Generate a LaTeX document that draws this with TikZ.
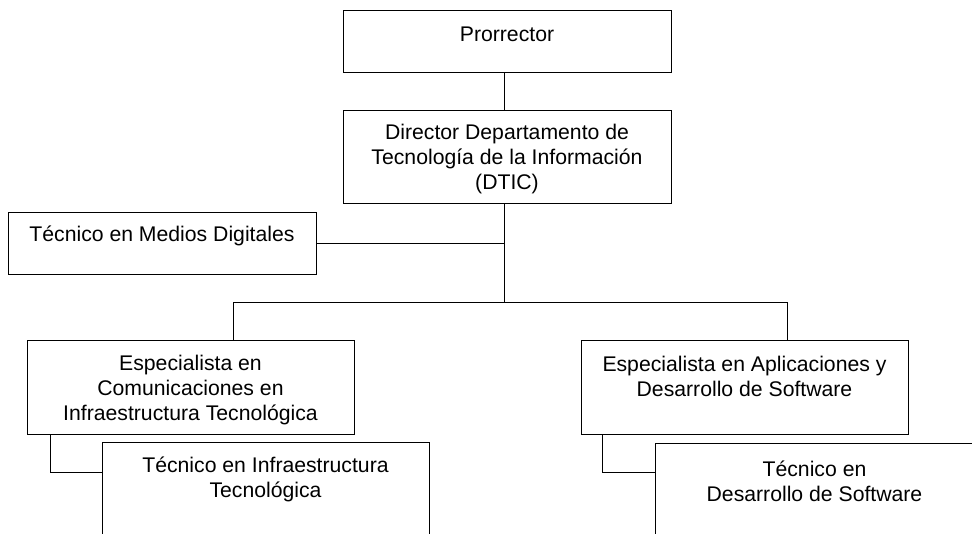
\documentclass[tikz,border=0pt]{standalone}
\usepackage{fontspec}
\setmainfont{Liberation Sans}
\begin{document}
\begin{tikzpicture}[x=1pt,y=-1pt,
  box/.style={draw=black,line width=1pt,rectangle,inner sep=0pt},
  lbl/.style={font=\fontsize{21.2}{25}\selectfont,align=center,anchor=base,inner sep=0pt},
  conn/.style={draw=black,line width=1pt}]
\useasboundingbox (0,0) rectangle (972,533);
\clip (0,0) rectangle (972,533);
% boxes
\node[box,minimum width=328pt,minimum height=62pt] (pro) at (507,41) {};
\node[box,minimum width=328pt,minimum height=93pt] (dir) at (507,156.5) {};
\node[box,minimum width=308pt,minimum height=62pt] (med) at (162,243) {};
\node[box,minimum width=327pt,minimum height=94pt] (espL) at (190.5,387) {};
\node[box,minimum width=327pt,minimum height=94pt] (espR) at (744.5,387) {};
\node[box,minimum width=327pt,minimum height=118pt] (tecL) at (265.5,501) {};
\node[box,minimum width=327pt,minimum height=117pt] (tecR) at (818.5,501.5) {};
% texts (anchor = baseline of the last line)
\node[lbl] (proT) at ([yshift=-32pt]pro.north) {Prorrector};
\node[lbl] (dirT) at ([yshift=-80pt]dir.north) {Director Departamento de\\Tecnología de la Información\\(DTIC)};
\node[lbl] (medT) at ([yshift=-30pt]med.north) {Técnico en Medios Digitales};
\node[lbl] (espLT) at ([yshift=-81pt]espL.north) {Especialista en\\Comunicaciones en\\Infraestructura Tecnológica};
\node[lbl] (espRT) at ([yshift=-57pt]espR.north) {Especialista en Aplicaciones y\\Desarrollo de Software};
\node[lbl] (tecLT) at ([yshift=-56pt]tecL.north) {Técnico en Infraestructura\\Tecnológica};
\node[lbl] (tecRT) at ([yshift=-59pt,xshift=-4pt]tecR.north) {Técnico en\\Desarrollo de Software};
% connectors
\coordinate (spine) at (504,0);
\coordinate (busY) at (0,302);
\coordinate (bl) at (233,302);
\coordinate (br) at (787,302);
\coordinate (subL) at (50,472);
\coordinate (subR) at (602,472);
\draw[conn] (pro.south -| spine) -- (dir.north -| spine);
\draw[conn] (dir.south -| spine) -- (busY -| spine);
\draw[conn] (med.east) -- (med.east -| spine);
\draw[conn] (bl) -- (br);
\draw[conn] (bl) -- (bl |- espL.north);
\draw[conn] (br) -- (br |- espR.north);
\draw[conn] (subL |- espL.south) -- (subL) -- (subL -| tecL.west);
\draw[conn] (subR |- espR.south) -- (subR) -- (subR -| tecR.west);
\end{tikzpicture}
\end{document}
